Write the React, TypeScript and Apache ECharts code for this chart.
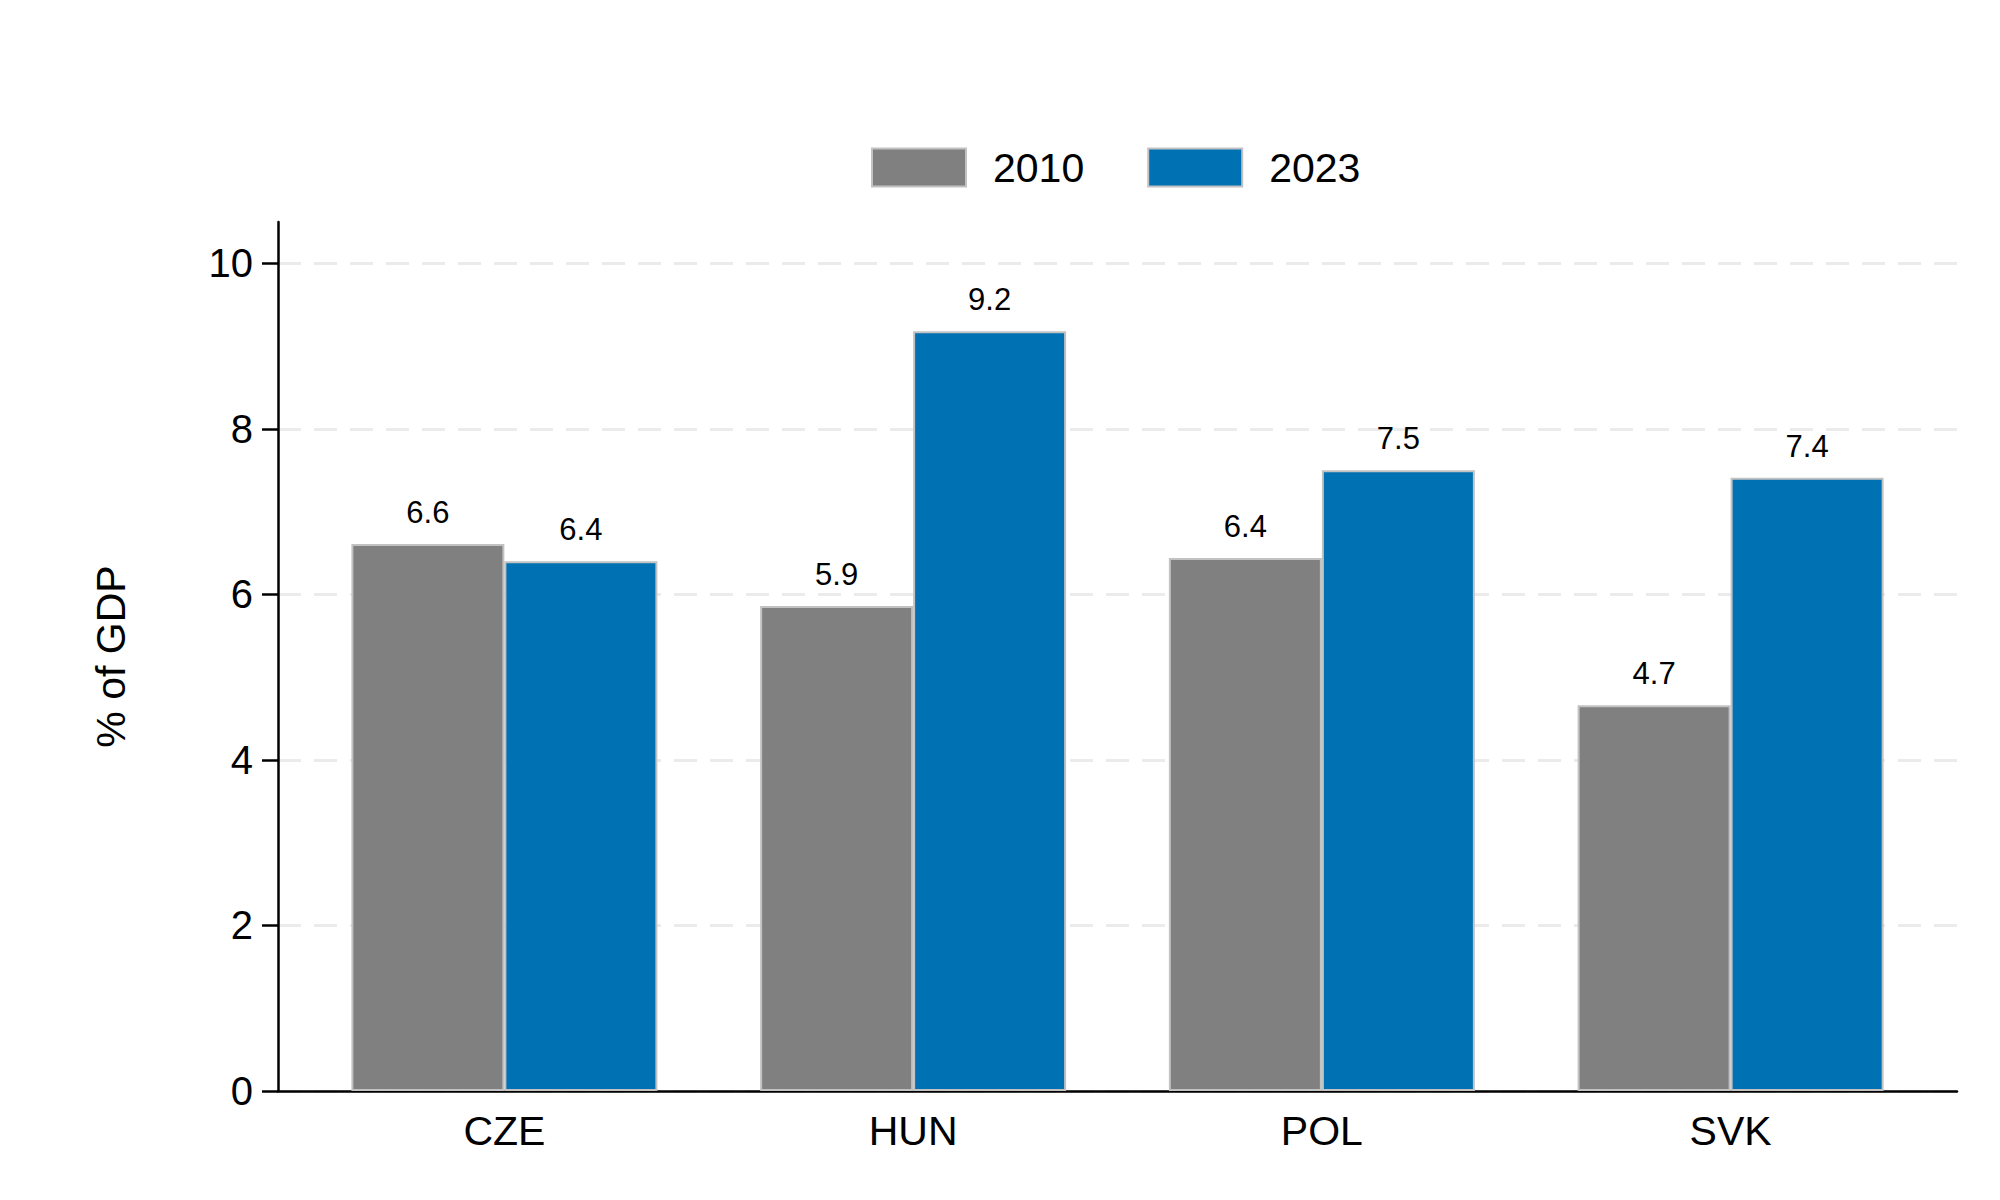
import React, { useEffect, useRef } from "react";
import * as echarts from "echarts";

const categories = ["CZE", "HUN", "POL", "SVK"];
const seriesNames = ["2010", "2023"];
const values2010 = [6.61, 5.86, 6.44, 4.66];
const values2023 = [6.4, 9.18, 7.5, 7.41];
const yTicks = [0, 2, 4, 6, 8, 10];
const colors = ["#808080", "#0071b3"];

const FONT = "'Liberation Sans', Arial, sans-serif";

export default function App() {
  const ref = useRef<HTMLDivElement>(null);
  useEffect(() => {
    if (!ref.current) return;
    const chart = echarts.init(ref.current, null, { renderer: "svg" });
    const barSeries = (name: string, data: number[], color: string) => ({
      type: "bar",
      name,
      xAxisIndex: 1,
      yAxisIndex: 1,
      data,
      barWidth: 153,
      barGap: "0%",
      itemStyle: { color, borderColor: "#c2c2c2", borderWidth: 2 },
      label: {
        show: true,
        position: "top",
        distance: 16,
        fontSize: 31,
        color: "#000",
        fontFamily: FONT,
        formatter: (p: any) => Number(p.value).toFixed(1),
      },
    });
    chart.setOption({
      animation: false,
      backgroundColor: "#fff",
      textStyle: { fontFamily: FONT },
      legend: {
        data: seriesNames,
        left: 871,
        top: 147,
        padding: 0,
        itemWidth: 94,
        itemHeight: 38,
        itemGap: 63,
        icon: "rect",
        textStyle: { fontSize: 41, color: "#000", padding: [0, 0, 0, 22], fontFamily: FONT },
      },
      grid: [
        { left: 278, right: 43, top: 222, bottom: 109, containLabel: false },
        { left: 300, right: 65, top: 222, bottom: 109, containLabel: false },
      ],
      xAxis: [
        {
          type: "value",
          gridIndex: 0,
          min: 0,
          max: 1,
          axisLine: { show: true, lineStyle: { color: "#000", width: 2.5 } },
          axisTick: { show: false },
          axisLabel: { show: false },
          splitLine: { show: false },
        },
        {
          type: "category",
          gridIndex: 1,
          data: categories,
          axisLine: { show: false },
          axisTick: { show: false },
          axisLabel: { fontSize: 41, color: "#000", margin: 19, fontFamily: FONT },
          splitLine: { show: false },
        },
      ],
      yAxis: [
        {
          type: "value",
          gridIndex: 0,
          min: 0,
          max: 10.5,
          interval: 2,
          name: "% of GDP",
          nameLocation: "middle",
          nameGap: 147,
          nameRotate: 90,
          nameTextStyle: { fontSize: 41, color: "#000", fontFamily: FONT },
          axisLine: { show: true, lineStyle: { color: "#000", width: 2.5 } },
          axisTick: { show: true, length: 16, customValues: yTicks, lineStyle: { color: "#000", width: 2.5 } },
          axisLabel: { fontSize: 40, color: "#000", margin: 25, customValues: yTicks, fontFamily: FONT },
          splitLine: { show: true, lineStyle: { color: "#ebebeb", width: 3, type: [23, 13] } },
        },
        {
          type: "value",
          gridIndex: 1,
          min: 0,
          max: 10.5,
          show: false,
          splitLine: { show: false },
        },
      ],
      series: [
        barSeries(seriesNames[0], values2010, colors[0]),
        barSeries(seriesNames[1], values2023, colors[1]),
      ],
    });
    return () => chart.dispose();
  }, []);
  return (
    <div
      ref={ref}
      style={{ position: "fixed", left: 0, top: 0, width: 2000, height: 1200 }}
    />
  );
}
